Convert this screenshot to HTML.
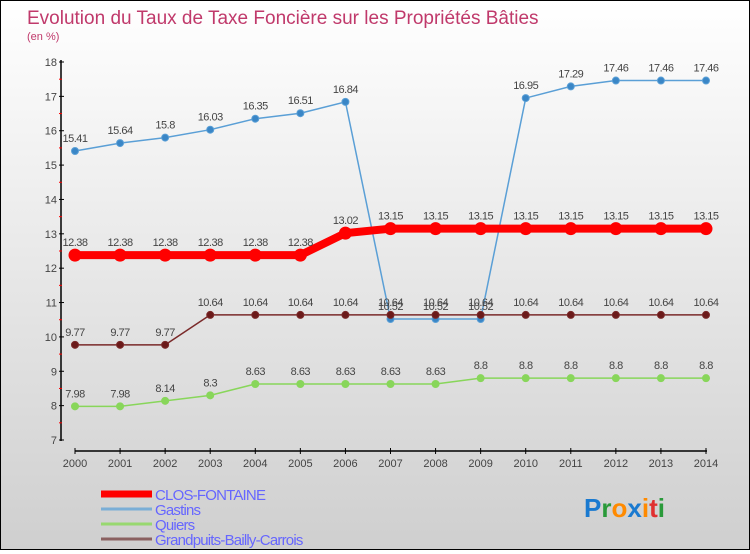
<!DOCTYPE html>
<html><head><meta charset="utf-8"><style>
body{margin:0}
#wrap{width:748px;height:548px;border:1px solid #000;background:linear-gradient(#ffffff,#cfcfcf);position:relative;font-family:"Liberation Sans",sans-serif}
</style></head><body>
<div id="wrap">
<svg id="c" width="748" height="548"></svg>
</div>
<script>
const years=[2000,2001,2002,2003,2004,2005,2006,2007,2008,2009,2010,2011,2012,2013,2014];
const closFontaine=[12.38,12.38,12.38,12.38,12.38,12.38,13.02,13.15,13.15,13.15,13.15,13.15,13.15,13.15,13.15];
const gastins=[15.41,15.64,15.8,16.03,16.35,16.51,16.84,10.52,10.52,10.52,16.95,17.29,17.46,17.46,17.46];
const quiers=[7.98,7.98,8.14,8.3,8.63,8.63,8.63,8.63,8.63,8.8,8.8,8.8,8.8,8.8,8.8];
const grandpuits=[9.77,9.77,9.77,10.64,10.64,10.64,10.64,10.64,10.64,10.64,10.64,10.64,10.64,10.64,10.64];
const yTicks=[7,8,9,10,11,12,13,14,15,16,17,18];
const NS="http://www.w3.org/2000/svg";
const svg=document.getElementById('c');
const X=i=>74+i*(631/14), Y=v=>439-(v-7)*(378/11);
function mk(t,a,p){const e=document.createElementNS(NS,t);for(const k in a)e.setAttribute(k,a[k]);(p||svg).appendChild(e);return e;}
let t=mk('text',{x:26,y:23,fill:'#c0396b','font-size':19});t.textContent='Evolution du Taux de Taxe Foncière sur les Propriétés Bâties';


t=mk('text',{x:26,y:39,fill:'#c0396b','font-size':11});t.textContent='(en %)';


let ax=mk('line',{x1:60,y1:59,x2:60,y2:440,stroke:'#000','stroke-width':1.5});


ax=mk('line',{x1:74,y1:450,x2:706,y2:450,stroke:'#000','stroke-width':1.5});


yTicks.forEach(v=>{mk('line',{x1:58,y1:Y(v),x2:63,y2:Y(v),stroke:'#000'});
 if(v<18)mk('line',{x1:58,y1:Y(v+0.5),x2:61,y2:Y(v+0.5),stroke:'red'});
 const l=mk('text',{x:56,y:Y(v)+4,'text-anchor':'end','font-size':11,fill:'#444'});l.textContent=v;
 
 });
years.forEach((y,i)=>{mk('line',{x1:X(i),y1:447,x2:X(i),y2:453,stroke:'#000'});
 const l=mk('text',{x:X(i),y:466,'text-anchor':'middle','font-size':11,fill:'#444'});l.textContent=y;
 
 });
function series(data,color,w,r,name,dot){
 const g=mk('g',{});
 
 
 mk('polyline',{points:data.map((v,i)=>X(i)+','+Y(v)).join(' '),fill:'none',stroke:color,'stroke-width':w},g);
 data.forEach((v,i)=>{const c=mk('circle',{cx:X(i),cy:Y(v),r:r,fill:dot,stroke:color,'stroke-width':1},g);
  
  
  const l=mk('text',{x:X(i),y:Y(v)-9,'text-anchor':'middle','font-size':11,fill:'#444','letter-spacing':'-0.5'},g);l.textContent=v;
  
  });
}
series(quiers,'#88d65a',1.5,3.5,'quiers','#88d65a');
series(gastins,'#5a9fd6',1.5,3.5,'gastins','#3a86c6');
series(grandpuits,'#7a2a2a',1.5,3.5,'grandpuits','#6b1a1a');
series(closFontaine,'#ff0000',8,6,'clos-fontaine','#ff0000');
const leg=[['CLOS-FONTAINE','#ff0000',7],['Gastins','#7aaed6',3],['Quiers','#98d870',3],['Grandpuits-Bailly-Carrois','#8a6060',3]];
leg.forEach((e,i)=>{const yy=493+i*15;
 const g=mk('g',{});
 
 
 mk('line',{x1:100,y1:yy,x2:151,y2:yy,stroke:e[1],'stroke-width':e[2]},g);
 const l=mk('text',{x:154,y:yy+6,'font-size':15,fill:'#6666ff','letter-spacing':'-0.8'},g);l.textContent=e[0];});
const logo=mk('text',{x:583,y:516,'font-size':26,'font-weight':'bold'});


[['P','#1a7ad0'],['r','#2a9a3a'],['o','#ff8a00'],['x','#1a7ad0'],['i','#ff8a00'],['t','#e03030'],['i','#2a9a3a']].forEach(c=>{const s=mk('tspan',{fill:c[1]},logo);s.textContent=c[0];});
</script>
</body></html>
